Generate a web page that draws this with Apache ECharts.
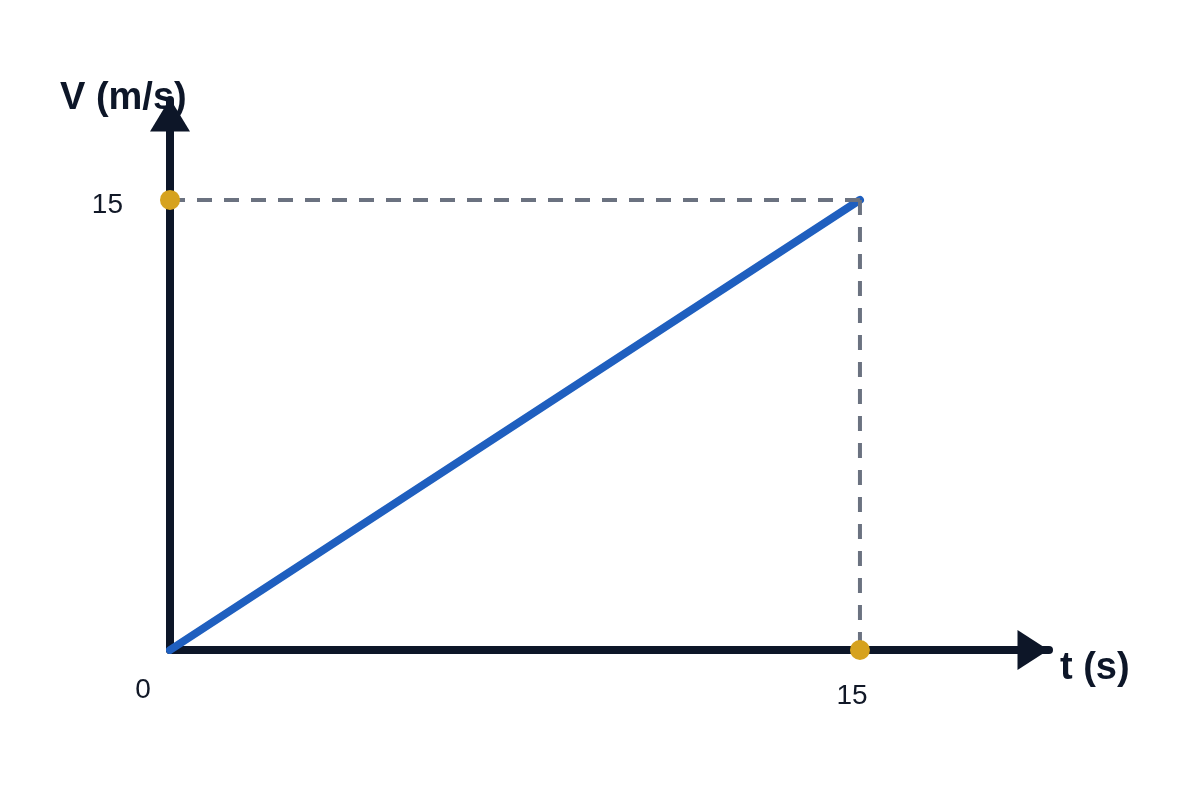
<!DOCTYPE html>
<html>
<head>
<meta charset="utf-8">
<title>V-t graph</title>
<script src="https://cdn.jsdelivr.net/npm/echarts@6.0.0/dist/echarts.min.js"></script>
<style>
  html, body { margin: 0; padding: 0; background: #fff; }
  #chart { width: 1200px; height: 800px; }
</style>
</head>
<body>
<div id="chart"></div>
<script>
// axis ranges (t in s, V in m/s)
const tMax = 19.11;
const vMax = 18.33;

// tick labels
const timeTicks = [15];
const speedTicks = [15];
const originLabel = "0";

// the motion: uniform acceleration from rest
const motionT = [0, 15];
const motionV = [0, 15];

// dashed guide lines to the axes
const guideHT = [0, 15];
const guideHV = [15, 15];
const guideVT = [15, 15];
const guideVV = [15, 0];

// highlighted points on the axes
const markT = [0, 15];
const markV = [15, 0];

const axisColor = "#0d1628";
const textColor = "#111827";
const font = "Liberation Sans, Arial, sans-serif";

const chart = echarts.init(document.getElementById("chart"));

const zip = (a, b) => a.map((x, i) => [x, b[i]]);

const dashed = (data) => ({
  type: "line",
  data: data,
  symbol: "none",
  z: 4,
  lineStyle: { color: "#6b7280", width: 4, type: [15, 12] }
});

const option = {
  animation: false,
  grid: { left: 170, top: 100, right: 151, bottom: 150 },
  xAxis: {
    type: "value",
    min: 0,
    max: tMax,
    splitLine: { show: false },
    axisTick: { show: false },
    axisLine: {
      show: true,
      onZero: false,
      symbol: ["none", "triangle"],
      symbolSize: [40, 31],
      symbolOffset: [0, -16],
      lineStyle: { color: axisColor, width: 8, cap: "round" }
    },
    axisLabel: {
      customValues: timeTicks,
      margin: 32,
      fontSize: 28,
      fontFamily: font,
      color: textColor,
      padding: [0, 16, 0, 0]
    }
  },
  yAxis: {
    type: "value",
    min: 0,
    max: vMax,
    splitLine: { show: false },
    axisTick: { show: false },
    axisLine: {
      show: true,
      onZero: false,
      symbol: ["none", "triangle"],
      symbolSize: [40, 33],
      symbolOffset: [0, -15],
      lineStyle: { color: axisColor, width: 8, cap: "round" }
    },
    axisLabel: {
      customValues: speedTicks,
      margin: 47,
      fontSize: 28,
      fontFamily: font,
      color: textColor,
      verticalAlign: "top",
      lineHeight: 10
    }
  },
  graphic: [
    {
      type: "text",
      x: 60,
      y: 99,
      style: {
        text: "V (m/s)",
        font: "bold 38px " + font,
        fill: axisColor,
        verticalAlign: "middle"
      }
    },
    {
      type: "text",
      x: 1060,
      y: 669,
      style: {
        text: "t (s)",
        font: "bold 38px " + font,
        fill: axisColor,
        verticalAlign: "middle"
      }
    }
  ],
  series: [
    {
      type: "line",
      data: zip(motionT, motionV),
      symbol: "none",
      z: 3,
      lineStyle: { color: "#1f5fbf", width: 8, cap: "round" }
    },
    dashed(zip(guideHT, guideHV)),
    dashed(zip(guideVT, guideVV)),
    {
      type: "scatter",
      data: zip(markT, markV),
      symbolSize: 20,
      z: 5,
      itemStyle: { color: "#d6a21e", opacity: 1 }
    },
    {
      type: "scatter",
      data: [[0, 0]],
      symbolSize: 0,
      z: 5,
      itemStyle: { opacity: 1 },
      label: {
        show: true,
        formatter: originLabel,
        position: "inside",
        offset: [-27, 40],
        fontSize: 28,
        fontFamily: font,
        color: textColor
      }
    }
  ]
};

chart.setOption(option);
</script>
</body>
</html>
